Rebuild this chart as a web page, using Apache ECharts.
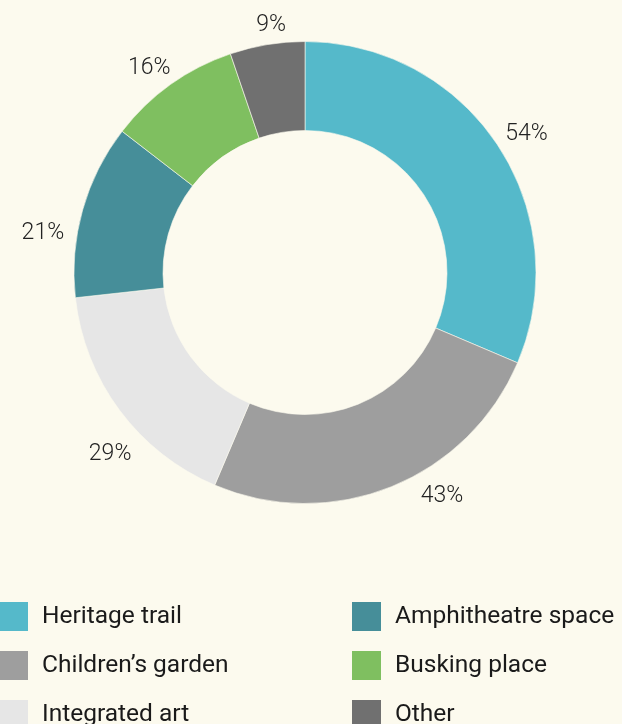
<!DOCTYPE html>
<html>
<head>
<meta charset="utf-8">
<script src="https://cdn.jsdelivr.net/npm/echarts@6/dist/echarts.min.js"></script>
<style>
html,body{margin:0;padding:0;background:#fcfaee;}
#main{width:622px;height:724px;}
</style>
</head>
<body>
<div id="main"></div>
<script>
const categories = ['Heritage trail', "Children\u2019s garden", 'Integrated art', 'Amphitheatre space', 'Busking place', 'Other'];
const values = [54, 43, 29, 21, 16, 9];
const colors = ['#55b9ca', '#9e9e9e', '#e6e6e6', '#468e99', '#7fbf60', '#707070'];
// small hand adjustments of label placement (px), as in the original layout
const labelNudgeX = [-9, 19, 28, 0, 13, 26];
const labelNudgeY = [-3, -3, 36, 27, -5, -6];

const chart = echarts.init(document.getElementById('main'));
const data = categories.map((c, i) => ({ name: c, value: values[i], itemStyle: { color: colors[i] } }));
const legendText = { fontFamily: 'Roboto', fontSize: 24.5, color: '#1a1a1a', padding: [0, 0, 0, 8] };
const legendBase = { orient: 'vertical', top: 600, height: 160, padding: 0, itemWidth: 31, itemHeight: 31,
  itemGap: 16, icon: 'rect', textStyle: legendText, selectedMode: false };
chart.setOption({
  backgroundColor: '#fcfaee',
  animation: false,
  legend: [
    Object.assign({}, legendBase, { left: -3, data: categories.slice(0, 3) }),
    Object.assign({}, legendBase, { left: 350, data: categories.slice(3) })
  ],
  series: [{
    type: 'pie',
    center: [305, 272.5],
    radius: [142, 231],
    startAngle: 90,
    clockwise: true,
    data: data,
    itemStyle: { borderColor: '#fcfaee', borderWidth: 0.6 },
    label: {
      show: true,
      position: 'outside',
      formatter: '{c}%',
      fontFamily: 'Roboto',
      fontWeight: 300,
      fontSize: 23,
      color: '#222'
    },
    labelLine: { show: false, length: 14, length2: 0 },
    labelLayout: function (p) {
      return { dx: labelNudgeX[p.dataIndex], dy: labelNudgeY[p.dataIndex] };
    },
    emphasis: { disabled: true }
  }]
});
</script>
</body>
</html>
